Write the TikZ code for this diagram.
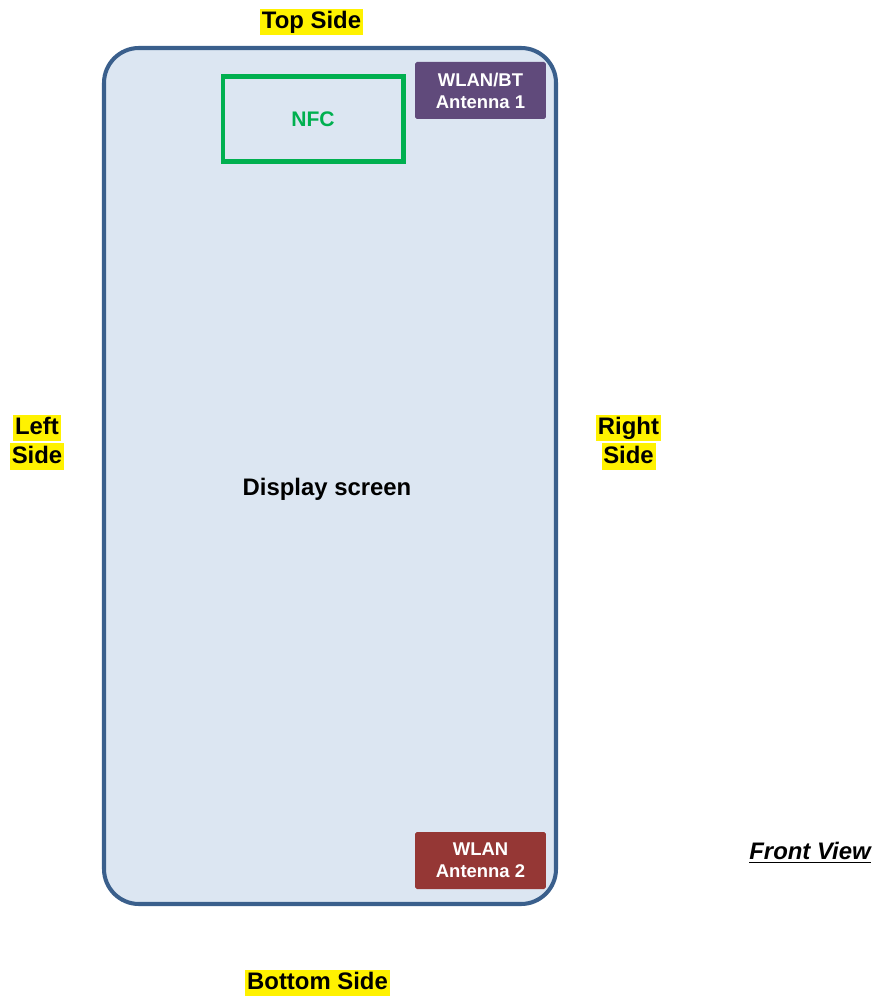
\documentclass[tikz,border=0pt]{standalone}
\usepackage{fontspec}
\setmainfont{Liberation Sans}
\usepackage{tikz}
\usetikzlibrary{positioning}
\usepackage{xcolor}
\definecolor{phoneedge}{HTML}{3A5F8C}
\definecolor{phonefill}{HTML}{DCE6F2}
\definecolor{nfcgreen}{HTML}{00B050}
\definecolor{antpurple}{HTML}{604A7B}
\definecolor{antred}{HTML}{953735}

\begin{document}
\begin{tikzpicture}[x=0.02cm, y=-0.02cm,
  every node/.style={font=\fontsize{13.6}{16}\selectfont\bfseries},
  sidelabel/.style={fill=yellow, inner xsep=1pt, inner ysep=0pt,
    text height=11.6pt, text depth=3.7pt},
  antenna/.style={rounded corners=1pt, text=white, align=center,
    minimum width=2.62cm, minimum height=1.14cm,
    font=\fontsize{10.5}{12.5}\selectfont\bfseries}]
  \useasboundingbox (0,0) rectangle (881,999);
  \draw[phoneedge, fill=phonefill, line width=2.3pt, rounded corners=0.7cm]
    (104,48) rectangle (556,904);
  \node[draw=nfcgreen, line width=2.3pt, text=nfcgreen,
    minimum width=3.62cm, minimum height=1.7cm,
    font=\fontsize{12}{14}\selectfont\bfseries] (nfc) at (313,119) {NFC};
  \node[antenna, fill=antpurple] (ant1) at (480.5,90.5) {WLAN/BT\\Antenna 1};
  \node[antenna, fill=antred] (ant2) at (480.5,860.5) {WLAN\\Antenna 2};
  \node (screen) at (327,489) {Display screen};
  \node[sidelabel] (top) at (311.5,22) {Top Side};
  \node[sidelabel] (bottom) at (317.5,983) {Bottom Side};
  \node[sidelabel] (leftA) at (37,428) {Left};
  \node[sidelabel, below=0.5pt of leftA] (leftB) {Side};
  \node[sidelabel] (rightA) at (628.5,428) {Right};
  \node[sidelabel, below=0.5pt of rightA] (rightB) {Side};
  \node (front) at (810,853) {\underline{\itshape Front View}};
\end{tikzpicture}
\end{document}
